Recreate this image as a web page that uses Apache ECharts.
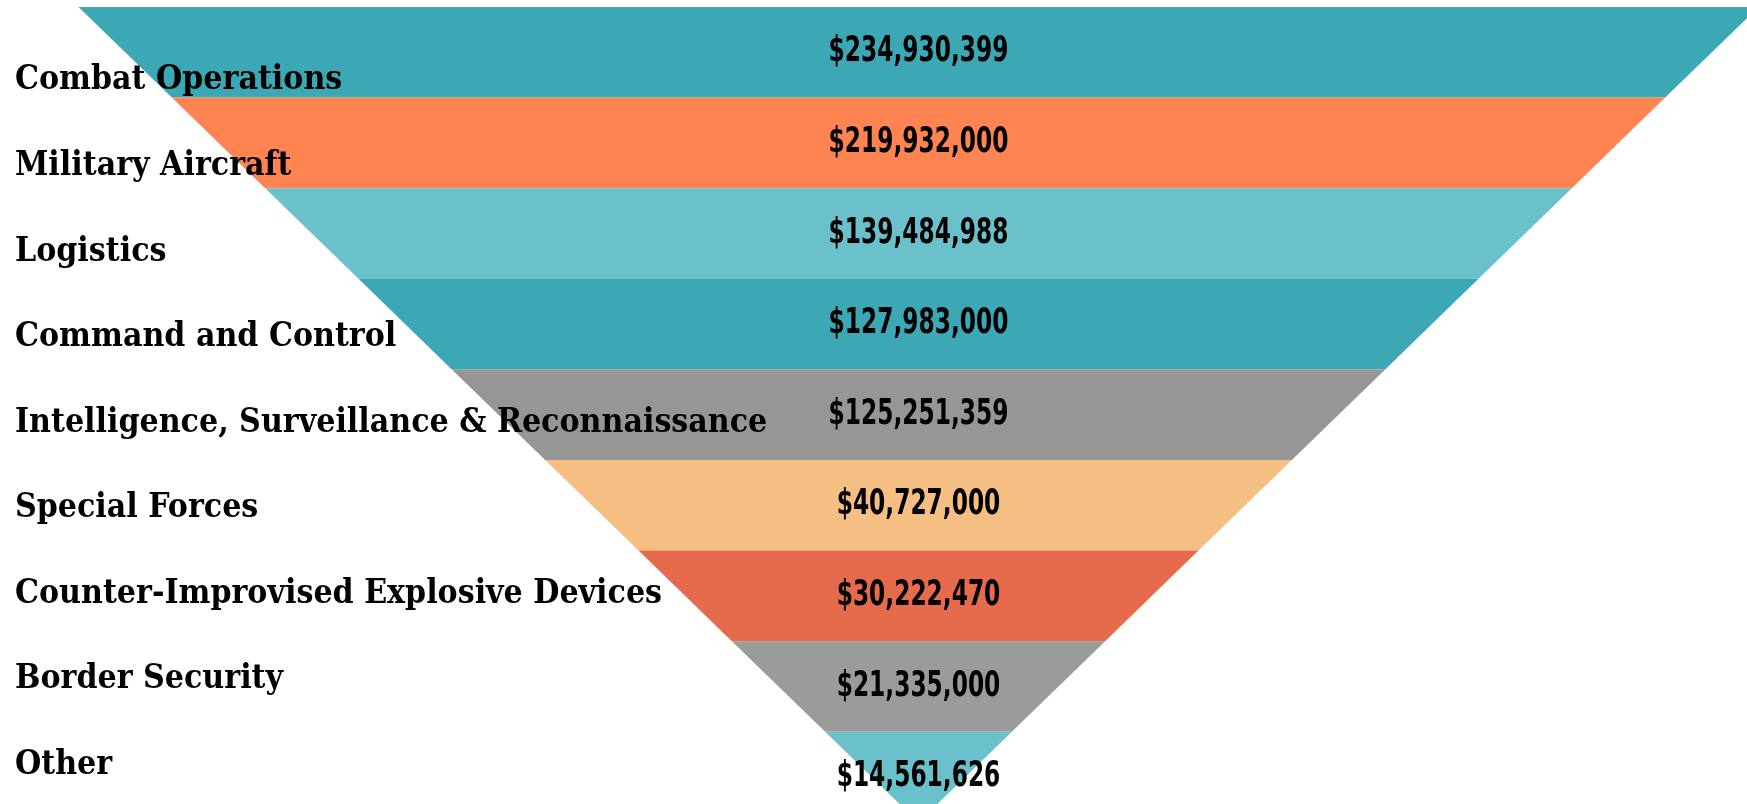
<!DOCTYPE html>
<html>
<head>
<meta charset="utf-8">
<script src="https://cdn.jsdelivr.net/npm/echarts@6/dist/echarts.min.js"></script>
<style>
  html, body { margin: 0; padding: 0; background: #fff; }
  #main { width: 1747px; height: 804px; }
</style>
</head>
<body>
<div id="main"></div>
<script>
// categories, top to bottom
var categories = [
  'Combat Operations',
  'Military Aircraft',
  'Logistics',
  'Command and Control',
  'Intelligence, Surveillance & Reconnaissance',
  'Special Forces',
  'Counter-Improvised Explosive Devices',
  'Border Security',
  'Other'
];
// spending in dollars
var amounts = [234930399, 219932000, 139484988, 127983000, 125251359, 40727000, 30222470, 21335000, 14561626];
var bandColors = ['#3ca7b5', '#ff8451', '#6bc1cb', '#3ca7b5', '#969696', '#f5be83', '#e66b4c', '#9b9b9b', '#6bc1cb'];

function money(v) {
  return '$' + String(v).replace(/\B(?=(\d{3})+(?!\d))/g, ',');
}

function initFunnel() {
  var myChart = echarts.init(document.getElementById('main'));
  myChart.setOption(createOption());
}

function createOption() {
  var n = categories.length;
  var data = categories.map(function (c, i) { return [i, amounts[i]]; });

  option = {
    animation: false,
    grid: [
      // the funnel runs off the right and bottom edges, so don't clamp it
      { left: 78.5, top: 7, width: 1680, height: 815.4, outerBoundsMode: 'none' },
      { left: 15, width: 800, top: 38, height: 770, outerBoundsMode: 'none' }
    ],
    xAxis: [
      { type: 'value', gridIndex: 0, min: -n, max: n, show: false },
      { type: 'value', gridIndex: 1, min: 0, max: 1, show: false }
    ],
    yAxis: [
      { type: 'category', gridIndex: 0, data: categories, inverse: true, show: false },
      {
        type: 'category',
        gridIndex: 1,
        data: categories,
        inverse: true,
        z: 10,
        axisLine: { show: false },
        axisTick: { show: false },
        splitLine: { show: false },
        axisLabel: {
          inside: true,
          margin: 0,
          align: 'left',
          color: '#000',
          fontFamily: '"DejaVu Serif Condensed", "DejaVu Serif", serif',
          fontWeight: 'bold',
          fontSize: 33.5
        }
      }
    ],
    series: [
      {
        type: 'custom',
        xAxisIndex: 0,
        yAxisIndex: 0,
        z: 2,
        clip: false,
        encode: { y: 0 },
        data: data,
        renderItem: function (params, api) {
          var i = api.value(0);
          var c = api.coord([0, i]);
          var bandH = api.size([0, 1])[1];
          var topHalf = api.size([n - i, 0])[0];
          var botHalf = api.size([n - i - 1, 0])[0];
          var y0 = c[1] - bandH / 2;
          var y1 = c[1] + bandH / 2;
          return {
            type: 'group',
            children: [
              {
                type: 'polygon',
                shape: { points: [[c[0] - topHalf, y0], [c[0] + topHalf, y0], [c[0] + botHalf, y1], [c[0] - botHalf, y1]] },
                style: { fill: bandColors[i] }
              },
              {
                type: 'text',
                z2: 5,
                x: c[0],
                y: c[1],
                scaleX: 0.74,
                style: {
                  text: money(api.value(1)),
                  x: 0,
                  y: 0,
                  align: 'center',
                  verticalAlign: 'middle',
                  fill: '#000',
                  font: 'bold 35px "Liberation Sans Narrow", "DejaVu Sans Condensed", sans-serif'
                }
              }
            ]
          };
        }
      }
    ]
  };
  return option;
}

initFunnel();
</script>
</body>
</html>
